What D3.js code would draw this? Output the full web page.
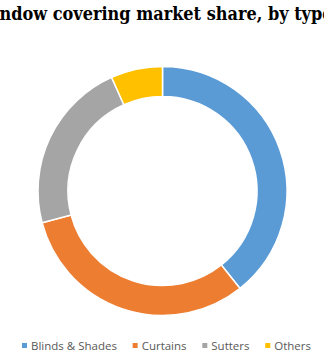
<!DOCTYPE html>
<html>
<head>
<meta charset="utf-8">
<script src="https://cdn.jsdelivr.net/npm/d3@7"></script>
<style>
	html, body { margin: 0; padding: 0; background: #ffffff; overflow: hidden; }
	.graphtitle { font-family: "DejaVu Serif Condensed", "DejaVu Serif", Georgia, serif; font-stretch: condensed; font-weight: bold; fill: #000000; }
	.legendtext { font-family: "Open Sans", "Liberation Sans", sans-serif; font-size: 11.5px; fill: #595959; }
</style>
</head>
<body>
<svg class="chartArea"></svg>
<script>
// Window covering market share by type (percent)
var categories = ["Blinds & Shades", "Curtains", "Sutters", "Others"];
var shares = [39.3, 31.6, 22.4, 6.7];
var colours = ["#5B9BD5", "#ED7D31", "#A5A5A5", "#FFC000"];
var graphHeader = "Window covering market share, by type";

var width = 324,
	height = 361;

var chart = d3.select(".chartArea")
	.attr("width", width)
	.attr("height", height);

// Title: wider than the picture, clipped on both sides like the original
var title = chart.append("text")
	.attr("class", "graphtitle")
	.attr("y", 20)
	.style("font-size", "19px")
	.text(graphHeader);

function textWidth(cls, str, size) {
	var t = chart.append("text")
		.attr("class", cls)
		.style("font-size", size + "px")
		.text(str);
	var w = t.node().getComputedTextLength();
	t.remove();
	return w;
}
var wanted = 323;
var fs = 19 * wanted / textWidth("graphtitle", "ndow covering market share, by typ", 19);
title.style("font-size", fs + "px")
	.attr("x", -textWidth("graphtitle", "Wi", fs) - 0.5);

// Donut
var cx = 162.5, cy = 191, outerR = 124.5, innerR = 94.5;

var pie = d3.pie()
	.sort(null)
	.value(function(d) { return d; });

var arc = d3.arc()
	.innerRadius(innerR)
	.outerRadius(outerR);

var colour = d3.scaleOrdinal()
	.domain(categories)
	.range(colours);

chart.append("g")
	.attr("transform", "translate(" + cx + "," + cy + ")")
  .selectAll("path")
	.data(pie(shares))
  .enter().append("path")
	.attr("d", arc)
	.attr("fill", function(d, i) { return colour(categories[i]); })
	.attr("stroke", "#ffffff")
	.attr("stroke-width", 1.5);

// Legend
var legend = chart.append("g")
	.attr("transform", "translate(0,346)");

var items = legend.selectAll(".item")
	.data(categories)
  .enter().append("g")
	.attr("class", "item");

items.append("rect")
	.attr("x", 0)
	.attr("y", -3)
	.attr("width", 5)
	.attr("height", 5)
	.attr("fill", function(d) { return colour(d); });

items.append("text")
	.attr("class", "legendtext")
	.attr("x", 9)
	.attr("dy", "0.35em")
	.text(function(d) { return d; });

// spread the items so the row spans the same width as the original
var textTotal = 0;
items.each(function() { textTotal += d3.select(this).select("text").node().getComputedTextLength(); });
var gap = (311 - 22 - 4 * 9 - textTotal) / 3;
var xpos = 22;
items.each(function() {
	var g = d3.select(this);
	g.attr("transform", "translate(" + xpos + ",0)");
	xpos += 9 + g.select("text").node().getComputedTextLength() + gap;
});
</script>
</body>
</html>
